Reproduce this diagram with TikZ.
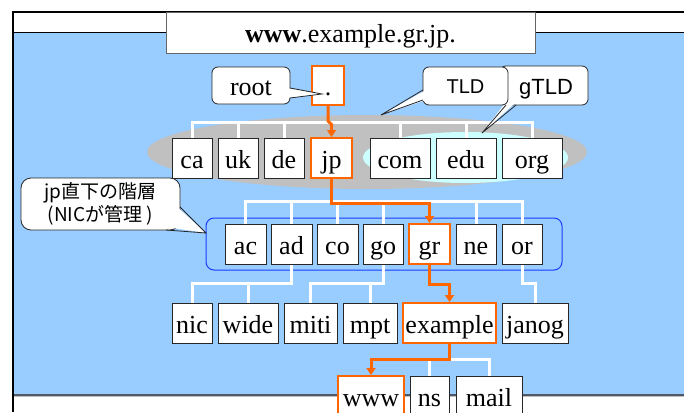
\documentclass[tikz,border=0pt]{standalone}
\usepackage{fontspec}
\setmainfont{Liberation Serif}
\newfontfamily\sansf{Liberation Sans}
\newfontfamily\cjk{Noto Sans CJK JP}
\usetikzlibrary{arrows.meta,calc}
\pgfdeclarelayer{bglayer}
\pgfdeclarelayer{linelayer}
\pgfsetlayers{bglayer,linelayer,main}
\definecolor{bgblue}{HTML}{99CCFF}
\definecolor{dnsorange}{HTML}{FF6600}
\definecolor{tldgray}{HTML}{C0C0C0}
\definecolor{gcyan}{HTML}{CCFFFF}
\definecolor{grpblue}{HTML}{1A3CFF}
\definecolor{bottomline}{HTML}{505866}
\tikzset{
  dbox/.style={draw=black!85, fill=white, line width=1pt, minimum height=40pt, inner sep=0pt,
               text height=20pt, text depth=0pt, font=\fontsize{26}{30}\selectfont},
  hbox/.style={dbox, draw=dnsorange, line width=2pt},
  wline/.style={white, line width=3pt},
  oline/.style={dnsorange, line width=3pt, -{Triangle[length=7pt,width=9pt]}},
  callbox/.style={draw=black!85, fill=white, line width=0.8pt, rounded corners=6pt, inner sep=0pt},
  callline/.style={draw=black!85, line width=0.8pt, line join=miter},
}
\newcommand\calltail[5]{%
  \fill[white] (#4) -- (#3) -- (#5) -- cycle;
  \draw[callline] (#1) -- (#3) -- (#2);}
\begin{document}
\begin{tikzpicture}[x=1pt,y=-1pt]
\useasboundingbox (0,0) rectangle (684,412);
\clip (0,0) rectangle (684,412);
\begin{pgfonlayer}{bglayer}
% frame and background
\fill[white] (0,0) rectangle (684,412);
\fill[bgblue] (13,33) rectangle (684,395);
\draw[black, line width=1pt] (13,33) -- (684,33);
\draw[bottomline, line width=1.2pt] (13,395) -- (684,395);
\draw[black!25, line width=0.8pt] (13,396.3) -- (684,396.3);
\draw[black, line width=1.5pt] (13,12) -- (684,12);
\draw[black, line width=2pt] (13,11.3) -- (13,412);
% ellipses and group frame
\fill[tldgray] (367,152) ellipse [x radius=220pt, y radius=37pt];
\fill[gcyan] (465.5,157.5) ellipse [x radius=102.5pt, y radius=25.5pt];
\draw[grpblue, line width=1pt, rounded corners=8pt] (206,218) rectangle (562,270);
\end{pgfonlayer}
% nodes
\node[hbox, minimum width=32pt, minimum height=39pt] (root) at (328,85.5) {.};
\node[dbox, minimum width=40pt] (ca) at (192,158) {ca};
\node[dbox, minimum width=40pt] (uk) at (238,158) {uk};
\node[dbox, minimum width=40pt] (de) at (284,158) {de};
\node[hbox, minimum width=41pt] (jp) at (331.5,158) {jp};
\node[dbox, minimum width=60pt] (com) at (400,158) {com};
\node[dbox, minimum width=60pt] (edu) at (466,158) {edu};
\node[dbox, minimum width=60pt] (org) at (532,158) {org};
\node[dbox, minimum width=41pt] (ac) at (245.5,244) {ac};
\node[dbox, minimum width=41pt] (ad) at (291.5,244) {ad};
\node[dbox, minimum width=41pt] (co) at (337.5,244) {co};
\node[dbox, minimum width=40pt] (go) at (383,244) {go};
\node[hbox, minimum width=41pt] (gr) at (429.5,244) {gr};
\node[dbox, minimum width=40pt] (ne) at (476,244) {ne};
\node[dbox, minimum width=40pt] (or) at (522,244) {or};
\node[dbox, minimum width=40pt] (nic) at (192,323) {nic};
\node[dbox, minimum width=60pt] (wide) at (248,323) {wide};
\node[dbox, minimum width=53pt] (miti) at (310.5,323) {miti};
\node[dbox, minimum width=54pt] (mpt) at (370,323) {mpt};
\node[hbox, minimum width=93pt] (example) at (449.5,323) {example};
\node[dbox, minimum width=66pt] (janog) at (535,323) {janog};
\node[hbox, minimum width=66pt] (www) at (371,396) {www};
\node[dbox, minimum width=39pt] (ns) at (429.5,396) {ns};
\node[dbox, minimum width=66pt] (mail) at (489,396) {mail};
\begin{pgfonlayer}{linelayer}
% white connectors
\draw[wline] (ca.north) -- ++(0,-15) -| (org.north);
\foreach \n in {uk,de,com,edu} \draw[wline] (\n.north) -- ++(0,-15);
\draw[wline] (ac.north) -- ++(0,-22) -| (or.north);
\foreach \n in {ad,co,go,ne} \draw[wline] (\n.north) -- ++(0,-22);
\draw[wline] (ad.south) -- ++(0,19) -| (nic.north);
\draw[wline] (wide.north) -- ++(0,-20);
\draw[wline] (go.south) -- ++(0,19) -| (miti.north);
\draw[wline] (mpt.north) -- ++(0,-20);
\draw[wline] (or.south) -- ++(0,19) -| (janog.north);
\draw[wline] (example.south) ++(0,15) -| (mail.north);
\draw[wline] (ns.north) -- ++(0,-18);
% orange path
\draw[oline] (root.south) -- ++(0,15) -- ++(3.5,3.5) -- (jp.north);
\draw[oline] (jp.south) -- ++(0,24) -| (gr.north);
\draw[oline] (gr.south) -- ++(0,19) -| (example.north);
\draw[oline] (example.south) -- ++(0,15) -| (www.north);
\end{pgfonlayer}
% callouts
\node[callbox, minimum width=78pt, minimum height=37pt, text height=20pt, text depth=0pt,
      font=\fontsize{26}{30}\selectfont] (rootc) at (251,85.5) {root};
\calltail{290,88}{290,98}{322,94}{287,88}{287,98}
\node[callbox, minimum width=88pt, minimum height=39pt, text height=18pt, text depth=0pt,
      font=\sansf\fontsize{22}{26}\selectfont] (gtldc) at (544,85.5) {\hspace*{4pt}gTLD};
\calltail{506,105}{516,105}{482,133}{506,102}{516,102}
\node[callbox, minimum width=85pt, minimum height=38pt, text height=14.3pt, text depth=0pt,
      font=\sansf\fontsize{20}{24}\selectfont] (tldc) at (465.5,86) {TLD};
\calltail{423,90}{423,100}{381,115}{426,90}{426,100}
\node[callbox, rounded corners=10pt, minimum width=159pt, minimum height=52pt, align=center,
      font=\cjk\fontsize{19}{23}\selectfont] (jpc) at (100.5,204) {jp直下の階層\\(NICが管理 )};
\calltail{180,207}{166,230}{206,233}{177,207}{166,227}
% title
\node[draw=black!60, fill=white, line width=1pt, minimum width=369pt, minimum height=40pt,
      inner sep=0pt, text height=20pt, text depth=0pt, font=\fontsize{26}{30}\selectfont]
      (title) at (350.5,33) {\textbf{www}.example.gr.jp.};
\end{tikzpicture}
\end{document}
